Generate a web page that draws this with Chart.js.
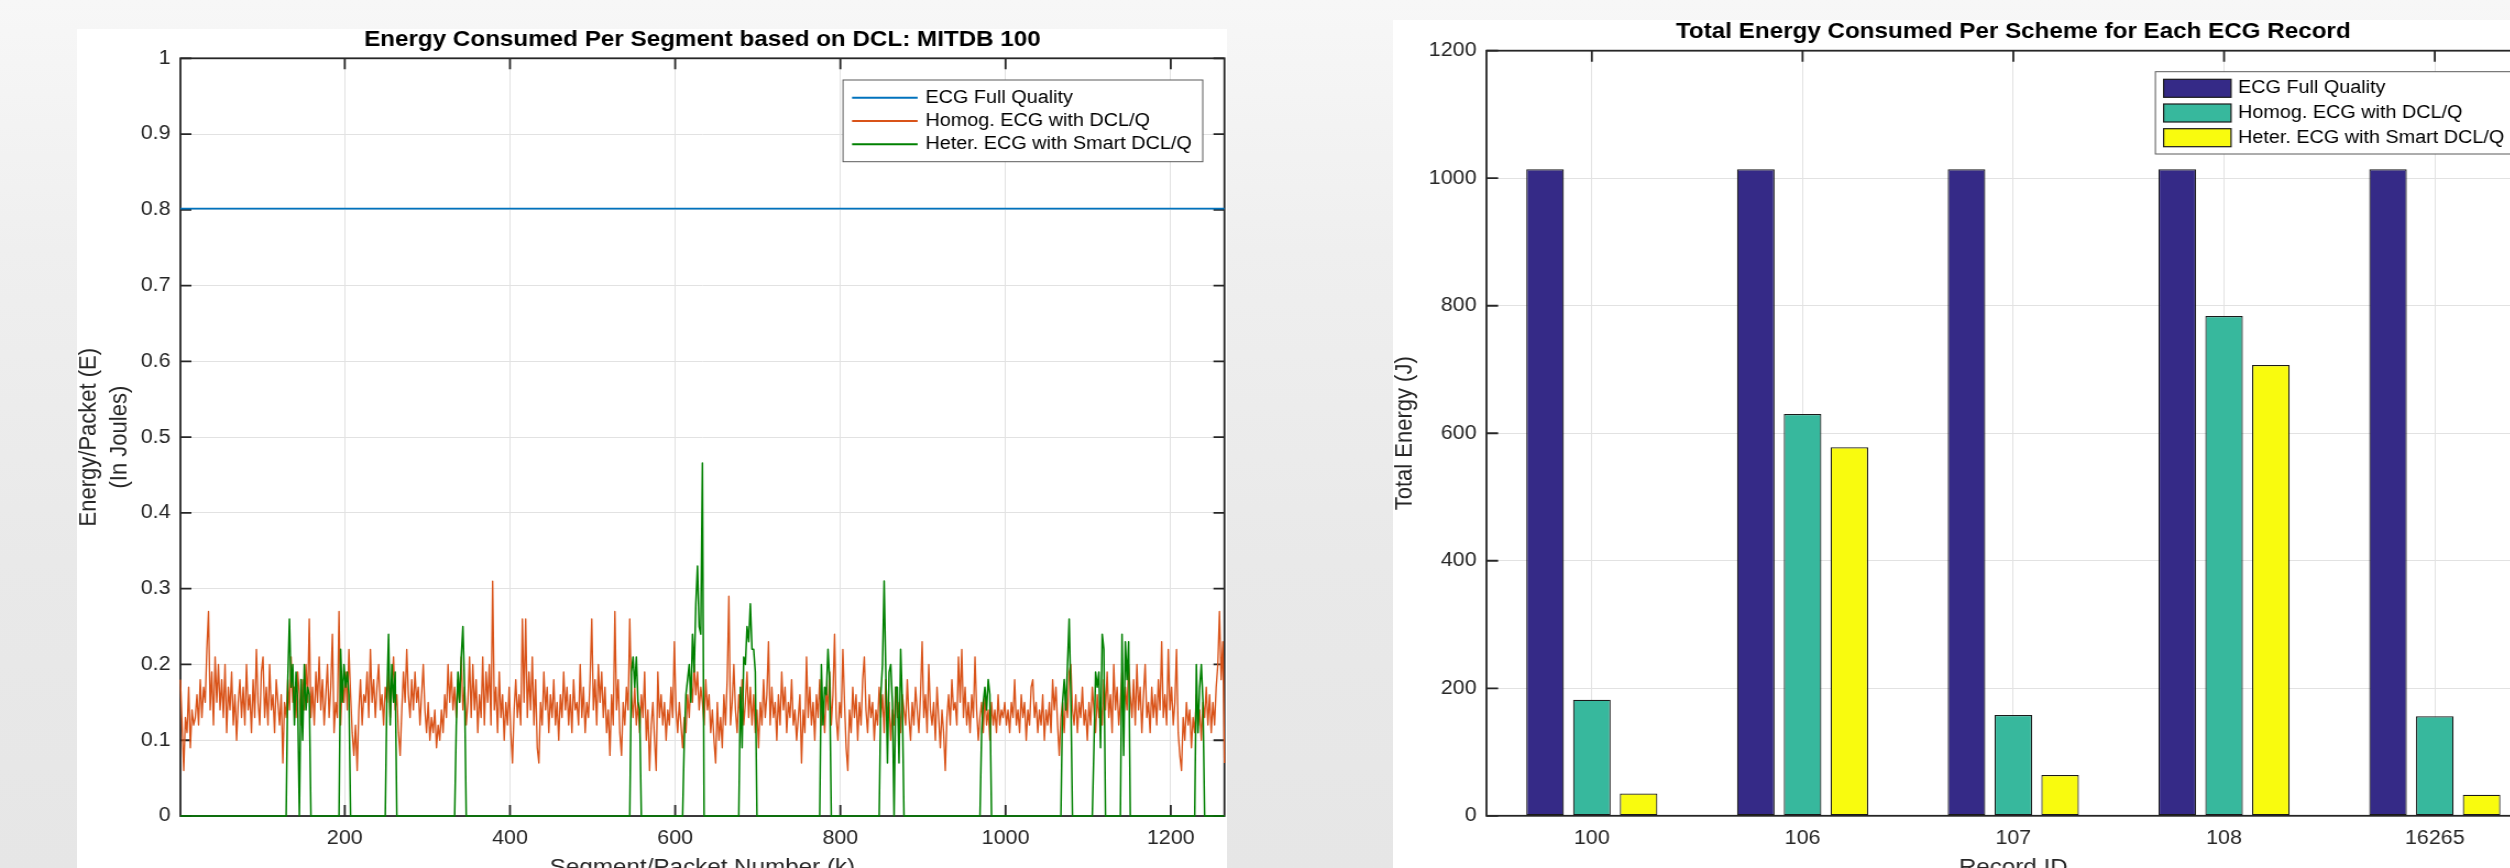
<!DOCTYPE html>
<html>
<head>
<meta charset="utf-8">
<script src="https://cdn.jsdelivr.net/npm/chart.js@4.4.1/dist/chart.umd.min.js"></script>
<style>
html,body{margin:0;padding:0;}
body{width:2510px;height:868px;overflow:hidden;position:relative;
background:linear-gradient(180deg,#f7f7f7 0px,#efefef 250px,#e9e9e9 560px,#e6e6e6 868px);}
canvas{position:absolute;background:#ffffff;}
</style>
</head>
<body>
<canvas id="left" width="1045" height="880" style="left:77px;top:29px;width:1149.5px;height:880px;"></canvas>
<canvas id="right" width="1060" height="880" style="left:1393.3px;top:20px;width:1166px;height:880px;"></canvas>
<script>
// ---------------- DATA ----------------
const seriesLabels = ['ECG Full Quality', 'Homog. ECG with DCL/Q', 'Heter. ECG with Smart DCL/Q'];

// Left chart: per-segment energy (record MITDB 100), sampled every 2nd segment
const leftTitle = 'Energy Consumed Per Segment based on DCL: MITDB 100';
const leftXTitle = 'Segment/Packet Number (k)';
const leftYTitle = ['Energy/Packet (E)', '(In Joules)'];
const segmentTicks = [200, 400, 600, 800, 1000, 1200];
const energyTicks = [0, 0.1, 0.2, 0.3, 0.4, 0.5, 0.6, 0.7, 0.8, 0.9, 1];
const firstSegment = 1;
const segmentStep = 2;
const lastSegment = 1265;
const fullQualitySegments = [1, 1265];
const fullQualityEnergy = [0.8015, 0.8015];
const homogEnergy = [
.18,.12,.06,.13,.11, .17,.09,.14,.12,.13, .16,.12,.18,.13,.17, .15,.22,.27,.14,.19, .12,.21,.15,.20,.14,
.18,.13,.20,.11,.17, .14,.19,.12,.16,.10, .15,.18,.13,.17,.12, .20,.14,.16,.11,.18, .13,.22,.15,.12,.19,
.21,.13,.17,.12,.20, .14,.16,.11,.18,.15, .12,.16,.07,.15,.13, .18,.14,.21,.15,.17, .13,.19,.16,.12,.18,
.14,.20,.15,.26,.13, .17,.12,.19,.15,.21, .14,.18,.12,.16,.20, .13,.17,.24,.11,.15, .13,.27,.12,.18,.15,
.19,.14,.22,.16,.11, .08,.12,.06,.14,.18, .12,.16,.15,.19,.13, .22,.15,.18,.13,.17, .20,.14,.16,.12,.17,
.15,.19,.13,.17,.21, .14,.16,.11,.08,.14, .19,.15,.22,.16,.13, .18,.14,.19,.15,.17, .12,.16,.20,.14,.11,
.15,.10,.13,.11,.14, .09,.12,.10,.14,.11, .16,.13,.20,.15,.19, .14,.17,.13,.18,.15, .21,.14,.17,.12,.15,
.21,.13,.20,.14,.18, .11,.16,.13,.21,.12, .19,.15,.20,.12,.31, .14,.17,.11,.19,.13, .16,.10,.15,.12,.17,
.11,.07,.14,.18,.13, .16,.12,.26,.15,.26, .13,.19,.14,.21,.12, .18,.09,.07,.15,.12, .19,.14,.17,.11,.16,
.13,.18,.12,.15,.10, .16,.13,.19,.14,.17, .12,.16,.11,.18,.14, .15,.12,.20,.13,.17, .11,.15,.13,.18,.26,
.14,.18,.12,.20,.15, .19,.13,.17,.11,.14, .08,.16,.12,.27,.14, .18,.11,.08,.15,.12, .17,.14,.26,.16,.13,
.17,.12,.15,.11,.16, .13,.19,.10,.14,.06, .12,.15,.10,.06,.19, .13,.16,.12,.15,.10, .14,.12,.17,.13,.23,
.14,.11,.15,.12,.09, .13,.11,.16,.13,.18, .15,.20,.16,.19,.14, .17,.15,.12,.18,.14, .16,.11,.14,.10,.07,
.15,.10,.13,.09,.16, .12,.18,.29,.12,.15, .20,.14,.11,.16,.13, .18,.12,.15,.19,.13, .17,.12,.16,.11,.14,
.09,.15,.12,.18,.13, .16,.23,.12,.17,.13, .15,.10,.16,.12,.19, .14,.17,.11,.15,.13, .18,.12,.14,.10,.13,
.16,.07,.14,.11,.21, .13,.17,.12,.15,.10, .16,.13,.18,.12,.15, .11,.17,.14,.19,.12, .16,.24,.13,.10,.15,
.13,.22,.15,.09,.06, .14,.11,.17,.13,.16, .10,.15,.12,.18,.21, .14,.11,.16,.13,.15, .10,.14,.12,.17,.13,
.16,.11,.18,.13,.15, .10,.14,.12,.17,.13, .15,.11,.16,.14,.12, .18,.13,.10,.15,.12, .17,.14,.11,.16,.23,
.13,.16,.11,.20,.14, .12,.15,.10,.17,.13, .09,.14,.11,.06,.13, .16,.12,.18,.14,.15, .12,.21,.15,.22,.13,
.17,.12,.15,.11,.16, .13,.21,.14,.10,.13, .15,.11,.16,.12,.14, .10,.15,.12,.14,.11, .16,.12,.14,.13,.15,
.12,.14,.11,.15,.13, .18,.12,.14,.11,.16, .13,.15,.10,.14,.12, .17,.18,.13,.15,.11, .14,.12,.16,.10,.14,
.12,.15,.11,.18,.14, .17,.12,.08,.13,.15, .11,.16,.13,.19,.20, .14,.12,.16,.11,.15, .13,.17,.12,.14,.10,
.15,.12,.17,.14,.11, .16,.13,.15,.12,.18, .14,.19,.13,.16,.11, .20,.14,.17,.12,.15, .19,.13,.17,.14,.20,
.16,.13,.18,.12,.20, .14,.17,.11,.16,.20, .13,.15,.11,.17,.13, .16,.12,.18,.14,.23, .13,.16,.12,.22,.14,
.17,.12,.15,.22,.11, .08,.06,.13,.10,.15, .12,.14,.09,.13,.11, .16,.12,.14,.10,.15, .13,.17,.12,.16,.11,
.15,.12,.17,.20,.27, .18,.23,.07
];
const heterEnergy = [
0,0,0,0,0, 0,0,0,0,0, 0,0,0,0,0, 0,0,0,0,0, 0,0,0,0,0,
0,0,0,0,0, 0,0,0,0,0, 0,0,0,0,0, 0,0,0,0,0, 0,0,0,0,0,
0,0,0,0,0, 0,0,0,0,0, 0,0,0,0,0, .18,.26,.17,.20,.12, .19,.15,0,.18,.10,
.20,.14,.17,.16,0, 0,0,0,0,0, 0,0,0,0,0, 0,0,0,0,0, 0,0,.22,.15,.20,
.17,.19,.16,0,0, 0,0,0,0,0, 0,0,0,0,0, 0,0,0,0,0, 0,0,0,0,0,
.16,.24,.12,.20,.15, .19,0,0,0,0, 0,0,0,0,0, 0,0,0,0,0, 0,0,0,0,0,
0,0,0,0,0, 0,0,0,0,0, 0,0,0,0,0, 0,0,.12,.19,.15, .21,.25,.17,0,0,
0,0,0,0,0, 0,0,0,0,0, 0,0,0,0,0, 0,0,0,0,0, 0,0,0,0,0,
0,0,0,0,0, 0,0,0,0,0, 0,0,0,0,0, 0,0,0,0,0, 0,0,0,0,0,
0,0,0,0,0, 0,0,0,0,0, 0,0,0,0,0, 0,0,0,0,0, 0,0,0,0,0,
0,0,0,0,0, 0,0,0,0,0, 0,0,0,0,0, 0,0,0,0,0, 0,0,0,.19,.21,
.17,.21,.15,.14,0, 0,0,0,0,0, 0,0,0,0,0, 0,0,0,0,0, 0,0,0,0,0,
0,0,0,0,0, .10,.16,.18,.20,.15, .24,.19,.28,.33,.25, .24,.466,0,0,0, 0,0,0,0,0,
0,0,0,0,0, 0,0,0,0,0, 0,0,0,0,.17, .09,.21,.20,.25,.23, .28,.22,.22,.19,0,
0,0,0,0,0, 0,0,0,0,0, 0,0,0,0,0, 0,0,0,0,0, 0,0,0,0,0,
0,0,0,0,0, 0,0,0,0,0, 0,0,0,.20,.12, .17,.16,.22,.18,0, 0,0,0,0,0,
0,0,0,0,0, 0,0,0,0,0, 0,0,0,0,0, 0,0,0,0,0, 0,0,0,0,.16,
.20,.31,.19,.07,.19, .20,.15,0,.17,.17, .07,.22,.15,0,0, 0,0,0,0,0, 0,0,0,0,0,
0,0,0,0,0, 0,0,0,0,0, 0,0,0,0,0, 0,0,0,0,0, 0,0,0,0,0,
0,0,0,0,0, 0,0,0,0,0, .11,.15,.17,.14,.18, .16,0,0,0,0, 0,0,0,0,0,
0,0,0,0,0, 0,0,0,0,0, 0,0,0,0,0, 0,0,0,0,0, 0,0,0,0,0,
0,0,0,0,0, 0,0,0,0,.15, .18,.14,.20,.26,.16, 0,0,0,0,0, 0,0,0,0,0,
0,0,0,.09,.19, .17,.19,.09,.24,.22, 0,0,0,0,0, 0,0,0,0,0, .24,.08,.23,.18,.23,
0,0,0,0,0, 0,0,0,0,0, 0,0,0,0,0, 0,0,0,0,0, 0,0,0,0,0,
0,0,0,0,0, 0,0,0,0,0, 0,0,0,0,0, .20,.11,.17,.20,.15, 0,0,0,0,0,
0,0,0,0,0, 0,0,0
];

// Right chart: total energy per record
const rightTitle = 'Total Energy Consumed Per Scheme for Each ECG Record';
const rightXTitle = 'Record ID';
const rightYTitle = 'Total Energy (J)';
const recordIds = ['100', '106', '107', '108', '16265'];
const totalFullQuality = [1014, 1014, 1014, 1014, 1014];
const totalHomog = [182, 630, 158, 784, 156];
const totalHeter = [35, 578, 64, 707, 33];
const totalTicks = [0, 200, 400, 600, 800, 1000, 1200];

if (homogEnergy.length !== heterEnergy.length) {
  throw new Error('length mismatch ' + homogEnergy.length + ' vs ' + heterEnergy.length);
}
const segments = homogEnergy.map((_, i) => firstSegment + segmentStep * i);

// ---------------- STYLE / PLUGINS ----------------
const FAMILY = "'Liberation Sans', Arial, Helvetica, sans-serif";
Chart.defaults.font.family = FAMILY;
Chart.defaults.color = '#262626';

const matlabAxes = {
  id: 'matlabAxes',
  beforeDatasetsDraw(chart, args, o) {
    const {ctx, chartArea: a} = chart;
    const xs = chart.scales.x, ys = chart.scales.y;
    ctx.save();
    ctx.strokeStyle = '#262626';
    ctx.lineWidth = o.lineWidth;
    ctx.beginPath();
    ys.ticks.forEach((t, i) => {
      const y = ys.getPixelForTick(i);
      ctx.moveTo(a.left, y); ctx.lineTo(a.left + o.hLen, y);
      ctx.moveTo(a.right, y); ctx.lineTo(a.right - o.hLen, y);
    });
    xs.ticks.forEach((t, i) => {
      const x = xs.getPixelForTick(i);
      ctx.moveTo(x, a.top); ctx.lineTo(x, a.top + o.vLen);
      ctx.moveTo(x, a.bottom); ctx.lineTo(x, a.bottom - o.vLen);
    });
    ctx.stroke();
    ctx.strokeRect(a.left, a.top, a.right - a.left, a.bottom - a.top);
    ctx.restore();
  }
};

const boxLegend = {
  id: 'boxLegend',
  afterDraw(chart, args, o) {
    const ctx = chart.ctx;
    ctx.save();
    ctx.fillStyle = '#ffffff';
    ctx.fillRect(o.x, o.y, o.w, o.h);
    ctx.strokeStyle = '#5a5a5a';
    ctx.lineWidth = 1;
    ctx.strokeRect(o.x, o.y, o.w, o.h);
    ctx.font = o.fontSize + 'px ' + FAMILY;
    ctx.textAlign = 'left';
    ctx.textBaseline = 'middle';
    chart.data.datasets.forEach((ds, i) => {
      const cy = o.rowY0 + i * o.rowGap;
      if (o.kind === 'line') {
        ctx.strokeStyle = ds.borderColor;
        ctx.lineWidth = 2;
        ctx.beginPath();
        ctx.moveTo(o.sx0, cy); ctx.lineTo(o.sx1, cy);
        ctx.stroke();
      } else {
        ctx.fillStyle = ds.backgroundColor;
        ctx.fillRect(o.sx0, cy - o.swH / 2, o.sx1 - o.sx0, o.swH);
        ctx.strokeStyle = '#1a1a1a';
        ctx.lineWidth = 1.2;
        ctx.strokeRect(o.sx0, cy - o.swH / 2, o.sx1 - o.sx0, o.swH);
      }
      ctx.fillStyle = '#000000';
      ctx.fillText(ds.label, o.tx, cy);
    });
    ctx.restore();
  }
};

const gridStyle = {color: '#e2e2e2', lineWidth: 1, drawTicks: false};

// ---------------- LEFT CHART ----------------
new Chart(document.getElementById('left'), {
  type: 'line',
  data: {
    datasets: [
      {label: seriesLabels[0], data: fullQualitySegments.map((s, i) => ({x: s, y: fullQualityEnergy[i]})),
       borderColor: '#0072BD', borderWidth: 1.7, order: 3, clip: 4},
      {label: seriesLabels[1], data: segments.map((s, i) => ({x: s, y: homogEnergy[i]})),
       borderColor: '#D95319', borderWidth: 1.35, order: 2, clip: 4},
      {label: seriesLabels[2], data: segments.map((s, i) => ({x: s, y: heterEnergy[i]})),
       borderColor: '#008000', borderWidth: 1.5, order: 1, clip: 4}
    ]
  },
  options: {
    responsive: false, animation: false, devicePixelRatio: 1,
    layout: {padding: {left: 0, right: 2.3, top: 0, bottom: 0}},
    elements: {point: {radius: 0, hoverRadius: 0}, line: {tension: 0, borderJoinStyle: 'round', fill: false}},
    events: [],
    plugins: {
      legend: {display: false},
      tooltip: {enabled: false},
      title: {display: true, text: leftTitle, fullSize: false, color: '#000000',
              font: {size: 22, weight: 'bold', lineHeight: 1}, padding: {top: 0.1, bottom: 7.2}},
      matlabAxes: {lineWidth: 1.8, hLen: 10, vLen: 11},
      boxLegend: {kind: 'line', x: 696.1, y: 51, w: 326.9, h: 81.7, sx0: 704.3, sx1: 763.9,
                  tx: 770.9, rowY0: 68.7, rowGap: 23.3, fontSize: 18}
    },
    scales: {
      x: {
        type: 'linear', position: 'bottom', min: firstSegment, max: lastSegment,
        afterBuildTicks: s => { s.ticks = segmentTicks.map(v => ({value: v})); },
        afterFit: s => { s.height = 93; },
        grid: gridStyle, border: {display: false},
        ticks: {autoSkip: false, maxRotation: 0, padding: 11.2, font: {size: 19.5}, color: '#262626',
                callback: v => String(v)},
        title: {display: true, text: leftXTitle, color: '#262626', font: {size: 22},
                padding: {top: 0, bottom: 28.1}}
      },
      y: {
        type: 'linear', position: 'left', min: 0, max: 1,
        afterBuildTicks: s => { s.ticks = energyTicks.map(v => ({value: v})); },
        afterFit: s => { s.width = 94; },
        grid: gridStyle, border: {display: false},
        ticks: {padding: 9, font: {size: 19.5}, color: '#262626', callback: v => String(v)},
        title: {display: true, text: leftYTitle, color: '#262626', font: {size: 22, lineHeight: 1.29},
                padding: {top: -3.6, bottom: 0}}
      }
    }
  },
  plugins: [matlabAxes, boxLegend]
});

// ---------------- RIGHT CHART ----------------
new Chart(document.getElementById('right'), {
  type: 'bar',
  data: {
    labels: recordIds,
    datasets: [
      {label: seriesLabels[0], data: totalFullQuality, backgroundColor: '#352A87'},
      {label: seriesLabels[1], data: totalHomog, backgroundColor: '#37B89D'},
      {label: seriesLabels[2], data: totalHeter, backgroundColor: '#F9FB0E'}
    ]
  },
  options: {
    responsive: false, animation: false, devicePixelRatio: 1,
    events: [],
    layout: {padding: {left: 0, right: 17.1, top: 0, bottom: 0}},
    datasets: {bar: {categoryPercentage: 0.666, barPercentage: 0.803, borderColor: '#1a1a1a',
                     borderWidth: 1.2, borderSkipped: false}},
    plugins: {
      legend: {display: false},
      tooltip: {enabled: false},
      title: {display: true, text: rightTitle, fullSize: false, color: '#000000',
              font: {size: 22, weight: 'bold', lineHeight: 1}, padding: {top: 0.7, bottom: 8}},
      matlabAxes: {lineWidth: 1.8, hLen: 10.6, vLen: 11},
      boxLegend: {kind: 'box', x: 693.1, y: 51.7, w: 329.4, h: 82.3, sx0: 700.6, sx1: 761.9, swH: 18,
                  tx: 768.2, rowY0: 68.3, rowGap: 24.7, fontSize: 18}
    },
    scales: {
      x: {
        type: 'category', position: 'bottom', offset: true,
        afterFit: s => { s.height = 84.2; },
        grid: Object.assign({offset: false}, gridStyle), border: {display: false},
        ticks: {autoSkip: false, maxRotation: 0, padding: 11.4, font: {size: 19.5}, color: '#262626'},
        title: {display: true, text: rightXTitle, color: '#262626', font: {size: 22},
                padding: {top: 0, bottom: 18.6}}
      },
      y: {
        type: 'linear', position: 'left', min: 0, max: 1200,
        afterBuildTicks: s => { s.ticks = totalTicks.map(v => ({value: v})); },
        afterFit: s => { s.width = 85; },
        grid: gridStyle, border: {display: false},
        ticks: {padding: 9, font: {size: 19.5}, color: '#262626', callback: v => String(v)},
        title: {display: true, text: rightYTitle, color: '#262626', font: {size: 22},
                padding: {top: -1.9, bottom: 0}}
      }
    }
  },
  plugins: [matlabAxes, boxLegend]
});
</script>
</body>
</html>
